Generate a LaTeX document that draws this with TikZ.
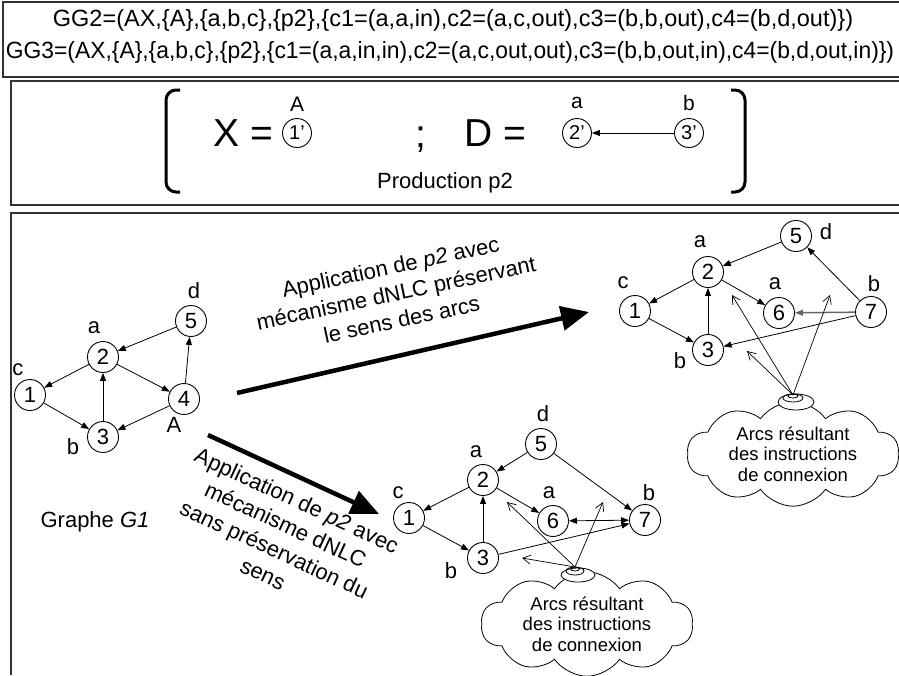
\documentclass[tikz,border=0pt]{standalone}
\usepackage{fontspec}
\setmainfont{Liberation Sans}
\usetikzlibrary{arrows.meta,shapes.symbols,shapes.geometric}

\begin{document}
\begin{tikzpicture}[x=1pt,y=-1pt,
  frame/.style={draw=black!80,line width=1.6pt},
  vtx/.style={circle,draw,line width=0.9pt,minimum size=31pt,inner sep=0pt,font=\fontsize{22}{22}\selectfont},
  pvtx/.style={circle,draw,line width=0.9pt,minimum size=29pt,inner sep=0pt,font=\fontsize{20}{20}\selectfont},
  lbl/.style={inner sep=0pt,font=\fontsize{22}{22}\selectfont},
  plbl/.style={inner sep=0pt,font=\fontsize{21}{21}\selectfont},
  big/.style={inner sep=0pt,font=\fontsize{39}{39}\selectfont},
  edge/.style={line width=0.8pt,-{Triangle[length=8pt,width=6pt]}},
  bedge/.style={line width=0.8pt,{Triangle[length=8pt,width=6pt]}-{Triangle[length=8pt,width=6pt]}},
  gedge/.style={draw=black!60,line width=1.5pt,-{Triangle[length=8pt,width=6pt]}},
  instr/.style={line width=0.7pt,-{Straight Barb[length=8pt,width=9pt]}},
  bigarrow/.style={line width=4.5pt,-{Triangle[length=28pt,width=24pt]}},
  note/.style={inner sep=0pt,align=center,font=\fontsize{22}{27}\selectfont},
  bubble/.style={cloud,draw,line width=0.8pt,cloud puffs=10,cloud puff arc=110,aspect=2.3,
    minimum width=212pt,minimum height=94pt,inner sep=0pt,align=center,
    font=\fontsize{18.5}{20.5}\selectfont},
]
\useasboundingbox (0,0) rectangle (899,675);

% ---------- frames ----------
\draw[frame] (899,2) -- (3,2) -- (3,77) -- (899,77);
\draw[frame] (899,81) -- (11,81) -- (11,205) -- (899,205);
\draw[frame] (899,213) -- (11,213) -- (11,675);

% ---------- grammars ----------
\node[inner sep=0pt,font=\fontsize{23.5}{23.5}\selectfont] (gg2) at (453,20)
  {GG2=(AX,\{A\},\{a,b,c\},\{p2\},\{c1=(a,a,in),c2=(a,c,out),c3=(b,b,out),c4=(b,d,out)\})};
\node[inner sep=0pt,font=\fontsize{23.5}{23.5}\selectfont,xscale=0.972] (gg3) at (450,52)
  {GG3=(AX,\{A\},\{a,b,c\},\{p2\},\{c1=(a,a,in,in),c2=(a,c,out,out),c3=(b,b,out,in),c4=(b,d,out,in)\})};

% ---------- production p2 ----------
\draw[line width=3pt,rounded corners=10pt] (180,90) -- (166,90) -- (166,192) -- (180,192);
\draw[line width=3pt,rounded corners=10pt] (731,90) -- (745,90) -- (745,192) -- (731,192);
\node[big] (xeq) at (243,133) {X =};
\node[pvtx] (p1) at (297,133) {1'};
\node[plbl] (pA) at (297,104) {A};
\node[big] (semi) at (421,140) {;};
\node[big] (deq) at (495,133) {D =};
\node[pvtx] (p2) at (577,133) {2'};
\node[plbl] (pa) at (577,103) {a};
\node[pvtx] (p3) at (689,133) {3'};
\node[plbl] (pb) at (689,103) {b};
\draw[edge] (p3) -- (p2);
\node[lbl] (prod) at (445,183) {Production p2};

% ---------- graph G1 ----------
\node[vtx] (g1) at (30,395) {1};
\node[vtx] (g2) at (103,357) {2};
\node[vtx] (g3) at (103,437) {3};
\node[vtx] (g4) at (184,399) {4};
\node[vtx] (g5) at (191,321) {5};
\node[lbl] (g1l) at (18,370) {c};
\node[lbl] (g2l) at (94,328) {a};
\node[lbl] (g3l) at (73,447) {b};
\node[lbl] (g4l) at (174,425) {A};
\node[lbl] (g5l) at (194,291) {d};
\draw[edge] (g2) -- (g1);
\draw[edge] (g1) -- (g3);
\draw[edge] (g3) -- (g2);
\draw[edge] (g2) -- (g4);
\draw[edge] (g4) -- (g3);
\draw[edge] (g4) -- (g5);
\draw[edge] (g5) -- (g2);
\node[lbl] (g1name) at (95,522) {Graphe \textit{G1}};

% ---------- transformation arrows ----------
\coordinate (upS) at (237,393);
\coordinate (upE) at (589,312);
\draw[bigarrow] (upS) -- (upE);
\node[note,rotate=12] (upnote) at (396,293)
  {Application de \textit{p2} avec\\mécanisme dNLC préservant\\le sens des arcs};
\coordinate (loS) at (208,435);
\coordinate (loE) at (379,514);
\draw[bigarrow] (loS) -- (loE);
\node[note,rotate=-24.8] (lonote) at (280,537)
  {Application de \textit{p2} avec\\mécanisme dNLC\\sans préservation du\\sens};

% ---------- result with preserved orientation ----------
\node[vtx] (u1) at (635,311) {1};
\node[vtx] (u2) at (708,272) {2};
\node[vtx] (u3) at (708,350) {3};
\node[vtx] (u5) at (796,236) {5};
\node[vtx] (u6) at (779,313) {6};
\node[vtx] (u7) at (871,312) {7};
\node[lbl] (u1l) at (623,283) {c};
\node[lbl] (u2l) at (700,242) {a};
\node[lbl] (u3l) at (680,361) {b};
\node[lbl] (u5l) at (826,232) {d};
\node[lbl] (u6l) at (775,284) {a};
\node[lbl] (u7l) at (874,284) {b};
\draw[edge] (u5) -- (u2);
\draw[edge] (u2) -- (u1);
\draw[edge] (u1) -- (u3);
\draw[edge] (u3) -- (u2);
\draw[edge] (u2) -- (u6);
\draw[gedge] (u7) -- (u6);
\draw[edge] (u7) -- (u5);
\draw[edge] (u7) -- (u3);
\node[bubble] (ucloud) at (793,454) {Arcs résultant\\des instructions\\de connexion};
\draw[line width=0.8pt,fill=white] (796,402) ellipse [x radius=18, y radius=8];
\draw[line width=0.8pt] (793,398) ellipse [x radius=10, y radius=4];
\draw[line width=0.8pt] (793,396) ellipse [x radius=5, y radius=2];
\coordinate (utip) at (793,395);
\coordinate (ua) at (732,295);
\coordinate (ub) at (830,295);
\coordinate (uc) at (747,351);
\draw[instr] (utip) -- (ua);
\draw[instr] (utip) -- (ub);
\draw[instr] (utip) -- (uc);

% ---------- result without preserved orientation ----------
\node[vtx] (l1) at (409,518) {1};
\node[vtx] (l2) at (483,480) {2};
\node[vtx] (l3) at (483,558) {3};
\node[vtx] (l5) at (541,444) {5};
\node[vtx] (l6) at (553,521) {6};
\node[vtx] (l7) at (645,520) {7};
\node[lbl] (l1l) at (398,493) {c};
\node[lbl] (l2l) at (476,452) {a};
\node[lbl] (l3l) at (451,571) {b};
\node[lbl] (l5l) at (543,414) {d};
\node[lbl] (l6l) at (549,493) {a};
\node[lbl] (l7l) at (649,493) {b};
\draw[edge] (l5) -- (l2);
\draw[edge] (l2) -- (l1);
\draw[edge] (l1) -- (l3);
\draw[edge] (l3) -- (l2);
\draw[edge] (l2) -- (l6);
\draw[bedge] (l6) -- (l7);
\draw[edge] (l5) -- (l7);
\draw[edge] (l3) -- (l7);
\node[bubble] (lcloud) at (587,624) {Arcs résultant\\des instructions\\de connexion};
\draw[line width=0.8pt,fill=white] (578,575) ellipse [x radius=17, y radius=7];
\draw[line width=0.8pt] (575,571) ellipse [x radius=9, y radius=4];
\draw[line width=0.8pt] (575,569) ellipse [x radius=4.5, y radius=2];
\coordinate (ltip) at (575,567);
\coordinate (la) at (507,502);
\coordinate (lb) at (603,502);
\coordinate (lc) at (522,558);
\draw[instr] (ltip) -- (la);
\draw[instr] (ltip) -- (lb);
\draw[instr] (ltip) -- (lc);
\end{tikzpicture}
\end{document}
